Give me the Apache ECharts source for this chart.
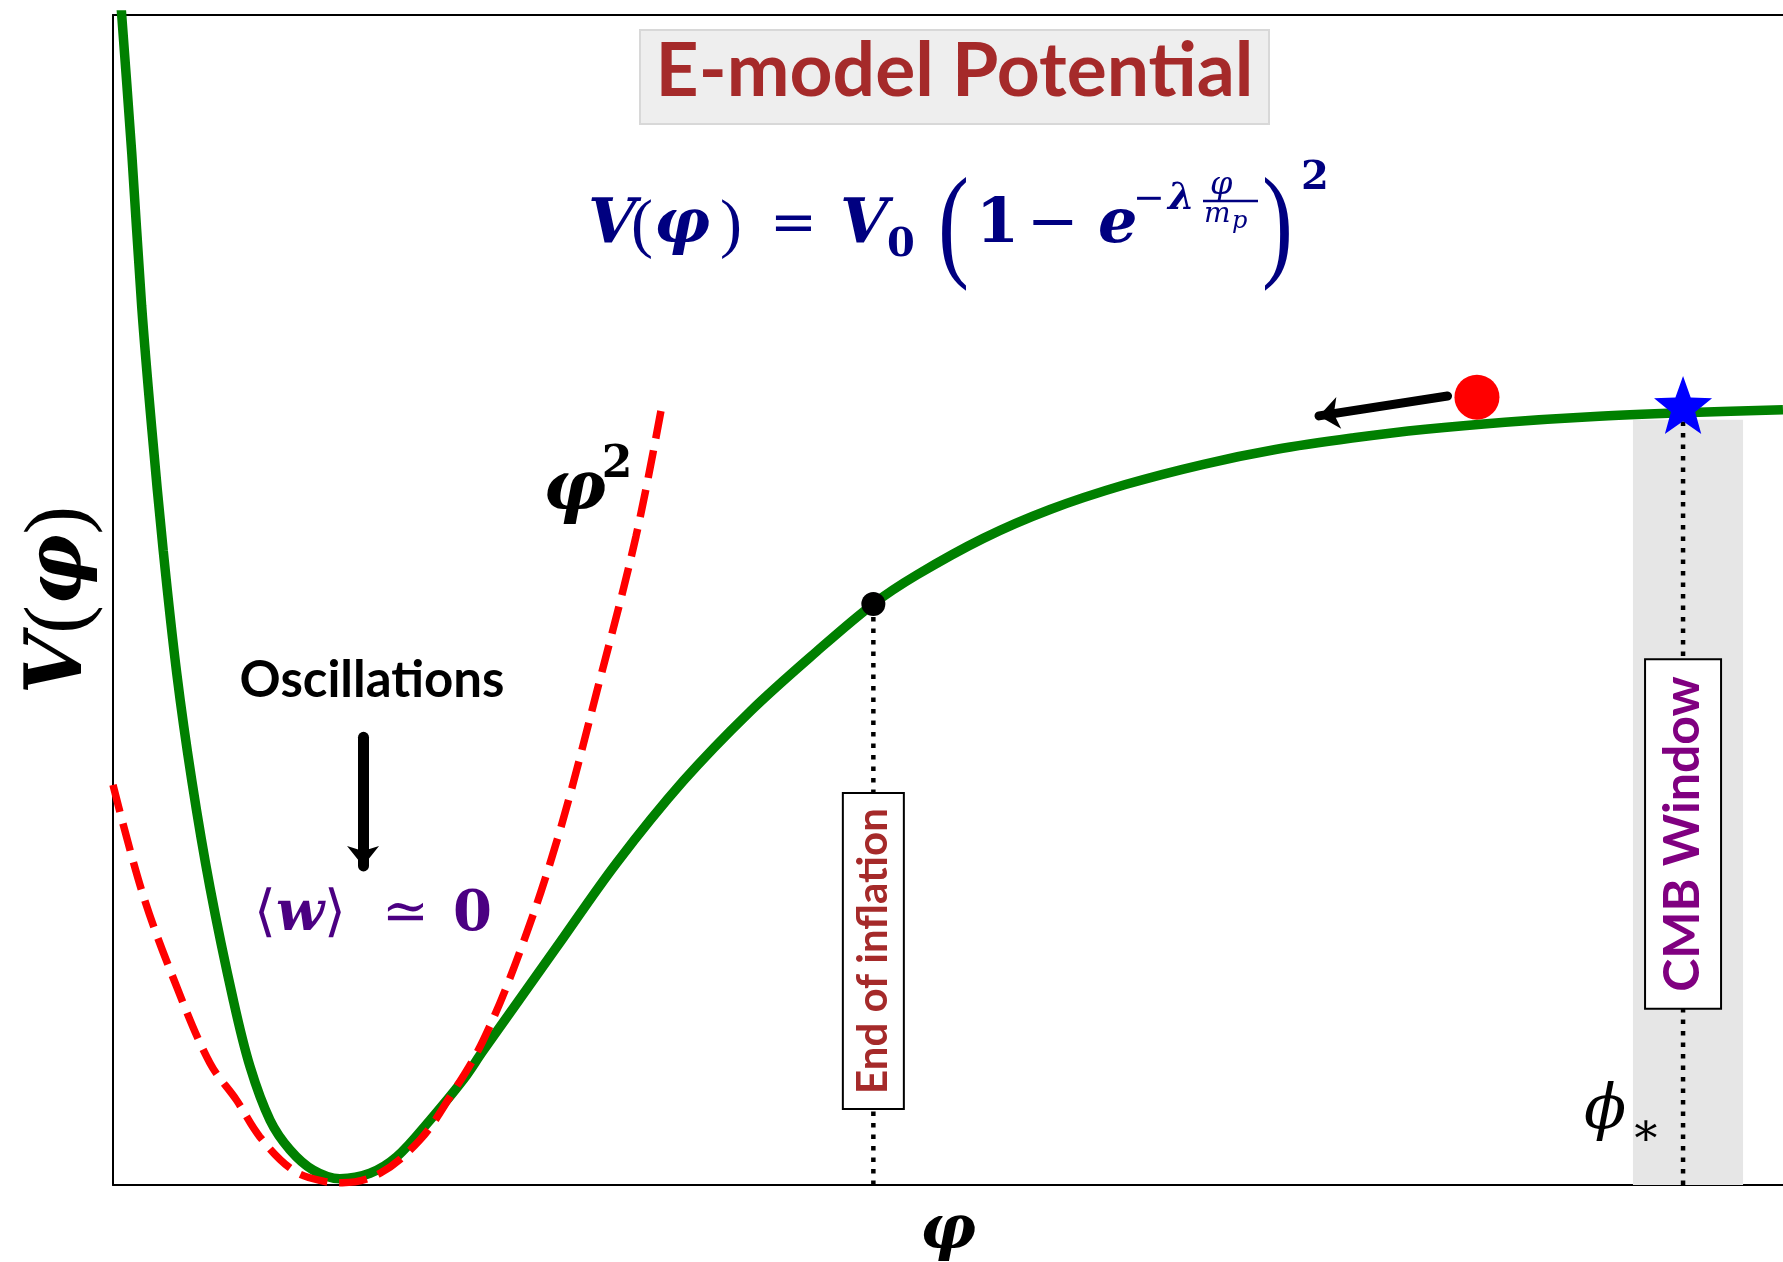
<!DOCTYPE html>
<html><head><meta charset="utf-8">
<script src="https://cdn.jsdelivr.net/npm/echarts@6/dist/echarts.min.js"></script>
<style>html,body{margin:0;padding:0;background:#fff}#c{width:1783px;height:1262px}</style>
</head><body><div id="c"></div>
<script>
// E-model potential V(phi)/V0
const phiE = [-1.457, -1.442, -1.375, -1.309, -1.242, -1.165, -1.075, -0.975, -0.853, -0.698, -0.587, -0.453, -0.32, -0.165, 0.013, 0.213, 0.391, 0.613, 0.835, 0.967, 1.458, 1.858, 2.302, 2.747, 3.191, 3.569, 3.858, 4.302, 4.747, 5.25, 5.77, 6.25, 6.773, 7.25, 7.78, 8.35, 8.967, 9.633];
const potE = [1.538, 1.5, 1.323, 1.127, 0.971, 0.813, 0.656, 0.519, 0.381, 0.237, 0.152, 0.083, 0.045, 0.019, 0.008, 0.015, 0.036, 0.083, 0.135, 0.172, 0.305, 0.413, 0.518, 0.607, 0.684, 0.745, 0.782, 0.829, 0.866, 0.898, 0.924, 0.943, 0.958, 0.969, 0.978, 0.985, 0.99, 0.994];
// quadratic approximation phi^2 (dashed)
const phiQ = [-1.5, -1.3, -1.075, -0.853, -0.677, -0.52, -0.3, -0.1, 0.03, 0.28, 0.547, 0.747, 0.967, 1.22, 1.473, 1.73, 1.987, 2.164];
const potQ = [0.513, 0.372, 0.254, 0.156, 0.109, 0.0615, 0.019, 0.005, 0.003, 0.015, 0.058, 0.113, 0.185, 0.303, 0.45, 0.636, 0.832, 1.004];
// special points
const endInflation = [3.569, 0.745];
const pivotPoint = [8.967, 1.0];
const fieldPoint = [7.593, 1.010];
const cmbWindow = [8.633, 9.367];
const cmbWindowTop = 0.981;
const rollArrow = [[7.397, 1.0115], [6.54, 0.986]];
const oscArrow = [[0.167, 0.574], [0.167, 0.409]];

const pair = (xs, ys) => xs.map((x, i) => [x, ys[i]]);
const SERIF = '"DejaVu Serif", "Liberation Serif", serif';
const LSERIF = '"Liberation Serif", "DejaVu Serif", serif';
const SANS = 'Lato, "DejaVu Sans", sans-serif';
const NAVY = '#000080';
const STAR = 'path://M12,1 L14.9,8.9 L23,9.2 L16.6,14.2 L18.9,22.3 L12,17.6 L5.1,22.3 L7.4,14.2 L1,9.2 L9.1,8.9 Z';

const labelItem = (value, label) => ({ value, label: Object.assign({ show: true, position: 'inside' }, label) });

const annotations = [
  labelItem([3.569, 0.300], { formatter: 'End of inflation', rotate: 90, fontFamily: SANS, fontWeight: 'bold', fontSize: 42, lineHeight: 42, color: '#a52a2a', backgroundColor: '#fff', borderColor: '#000', borderWidth: 2, padding: [8, 14, 9, 14] }),
  labelItem([8.967, 0.45], { formatter: 'CMB Window', rotate: 90, fontFamily: SANS, fontWeight: 'bold', fontSize: 50, lineHeight: 52, color: '#800080', backgroundColor: '#fff', borderColor: '#000', borderWidth: 2, padding: [11, 16, 11, 16] }),
  labelItem([8.447, 0.094], { formatter: 'ϕ', fontFamily: SERIF, fontStyle: 'italic', fontSize: 62, color: '#000' }),
  labelItem([8.72, 0.066], { formatter: '∗', fontFamily: SERIF, fontSize: 46, color: '#000' }),
  labelItem([0.227, 0.647], { formatter: 'Oscillations', fontFamily: SANS, fontWeight: 'bold', fontSize: 51, color: '#000' }),
  labelItem([0.233, 0.346], { formatter: '{a|⟨}{b|w}{a|⟩}{s|≃}{c|0}', rich: {
      a: { fontFamily: SERIF, fontSize: 56, color: '#4b0082' },
      b: { fontFamily: SERIF, fontSize: 56, fontWeight: 'bold', fontStyle: 'italic', color: '#4b0082' },
      s: { fontFamily: SERIF, fontSize: 56, color: '#4b0082', padding: [0, 24, 0, 36] },
      c: { fontFamily: SERIF, fontSize: 56, fontWeight: 'bold', color: '#4b0082' } } }),
  labelItem([1.577, 0.889], { formatter: 'φ', fontFamily: SERIF, fontWeight: 'bold', fontStyle: 'italic', fontSize: 70, color: '#000' }),
  labelItem([1.86, 0.922], { formatter: '2', fontFamily: SERIF, fontWeight: 'bold', fontSize: 44, color: '#000' })
];

const T = (text, x, y, font, sx) => ({ type: 'text', z: 100, x, y, scaleX: sx || 1, style: { text, x: 0, y: 0, font, fill: NAVY, align: 'left', verticalAlign: 'middle' } });
const BI = s => 'italic bold ' + s + 'px ' + SERIF;
const I = s => 'italic ' + s + 'px ' + SERIF;
const R = s => s + 'px ' + LSERIF;
const D = s => s + 'px ' + SERIF;
const B = s => 'bold ' + s + 'px ' + SERIF;

const graphic = [
  { type: 'rect', z: 100, shape: { x: 640, y: 30, width: 629, height: 94 }, style: { fill: '#eeeeee', stroke: '#d8d8d8', lineWidth: 2 } },
  { type: 'text', z: 101, style: { text: 'E-model Potential', x: 954.5, y: 72, font: 'bold 75px ' + SANS, fill: '#a52a2a', align: 'center', verticalAlign: 'middle' } },
  T('V', 588, 226, BI(62)), T('(', 631, 228, R(66)), T('φ', 654, 226, BI(62)), T(')', 720, 228, R(66)),
  T('=', 770, 226, D(56)),
  T('V', 840, 226, BI(62)), T('0', 887, 246, B(40)),
  T('(', 938, 231, R(124), 0.75),
  T('1', 976, 226, B(62)), T('−', 1027, 226, D(62)), T('e', 1098, 226, BI(62)),
  T('−', 1133, 200, D(38)), T('λ', 1168, 199, BI(38)),
  T('φ', 1210, 186, I(32)),
  { type: 'line', z: 100, shape: { x1: 1203, y1: 201, x2: 1258, y2: 201 }, style: { stroke: NAVY, lineWidth: 2.5 } },
  T('m', 1204, 215, I(28)), T('p', 1232, 222, I(24)),
  T(')', 1262, 231, R(124), 0.75),
  T('2', 1301, 179, B(40))
];

const hidden = { axisTick: { show: false }, axisLabel: { show: false }, splitLine: { show: false } };
const border = { show: true, onZero: false, lineStyle: { color: '#000', width: 2 } };

const option = {
  animation: false,
  backgroundColor: '#fff',
  grid: { left: 113, top: 15, right: 0, bottom: 77, outerBoundsMode: 'none', containLabel: false },
  xAxis: [
    Object.assign({ type: 'value', min: -1.5, max: 9.6333, axisLine: border,
      name: 'φ', nameLocation: 'middle', nameGap: 16, nameTextStyle: { fontFamily: SERIF, fontWeight: 'bold', fontStyle: 'italic', fontSize: 62, color: '#000' } }, hidden),
    Object.assign({ type: 'value', position: 'top', min: -1.5, max: 9.6333, axisLine: border }, hidden)
  ],
  yAxis: Object.assign({ type: 'value', min: 0, max: 1.5, axisLine: border,
    name: '{v|V}{p|(}{v|φ}{p|)}', nameLocation: 'middle', nameRotate: 90, nameGap: 9,
    nameTextStyle: { rich: { v: { fontFamily: SERIF, fontWeight: 'bold', fontStyle: 'italic', fontSize: 78, color: '#000' }, p: { fontFamily: LSERIF, fontSize: 86, color: '#000' } } } }, hidden),
  graphic,
  series: [
    { name: 'CMB band', type: 'line', z: 1, symbol: 'none', lineStyle: { opacity: 0 }, data: [[cmbWindow[0], 0]], silent: true,
      markArea: { silent: true, itemStyle: { color: '#e6e6e6' }, data: [[{ coord: [cmbWindow[0], 0] }, { coord: [cmbWindow[1], cmbWindowTop] }]] } },
    { name: 'end dotted', type: 'line', z: 3, symbol: 'none', silent: true, data: [[endInflation[0], 0], endInflation], lineStyle: { color: '#000', width: 4.5, type: [4.5, 7] } },
    { name: 'pivot dotted', type: 'line', z: 3, symbol: 'none', silent: true, data: [[pivotPoint[0], 0], pivotPoint], lineStyle: { color: '#000', width: 4.5, type: [4.5, 7] } },
    { name: 'E-model', type: 'line', z: 4, smooth: 0.35, symbol: 'none', data: pair(phiE, potE), lineStyle: { color: '#008000', width: 9.5 } },
    { name: 'phi2', type: 'line', z: 5, smooth: 0.35, symbol: 'none', data: pair(phiQ, potQ), lineStyle: { color: '#ff0000', width: 7.5, type: [28, 12] } },
    { name: 'end point', type: 'scatter', z: 6, symbolSize: 24, itemStyle: { color: '#000', opacity: 1 }, data: [endInflation] },
    { name: 'field', type: 'scatter', z: 6, symbolSize: 45, itemStyle: { color: '#ff0000', opacity: 1 }, data: [fieldPoint] },
    { name: 'pivot', type: 'scatter', z: 7, symbol: STAR, symbolSize: 58, itemStyle: { color: '#0000ff', opacity: 1 }, data: [pivotPoint] },
    { name: 'arrows', type: 'line', z: 6, symbol: 'none', lineStyle: { opacity: 0 }, data: [rollArrow[1]], silent: true,
      markLine: { silent: true, symbol: ['none', 'arrow'], symbolSize: [24, 20], label: { show: false }, animation: false,
        lineStyle: { color: '#000', width: 9, type: 'solid', cap: 'round', opacity: 1 },
        data: [
          [{ coord: rollArrow[0] }, { coord: rollArrow[1] }],
          [{ coord: oscArrow[0], lineStyle: { width: 11 } }, { coord: oscArrow[1] }]
        ] } },
    { name: 'labels', type: 'scatter', z: 10, symbolSize: 0, silent: true, itemStyle: { opacity: 1 }, data: annotations }
  ]
};
const chart = echarts.init(document.getElementById('c'));
chart.setOption(option);
</script></body></html>
